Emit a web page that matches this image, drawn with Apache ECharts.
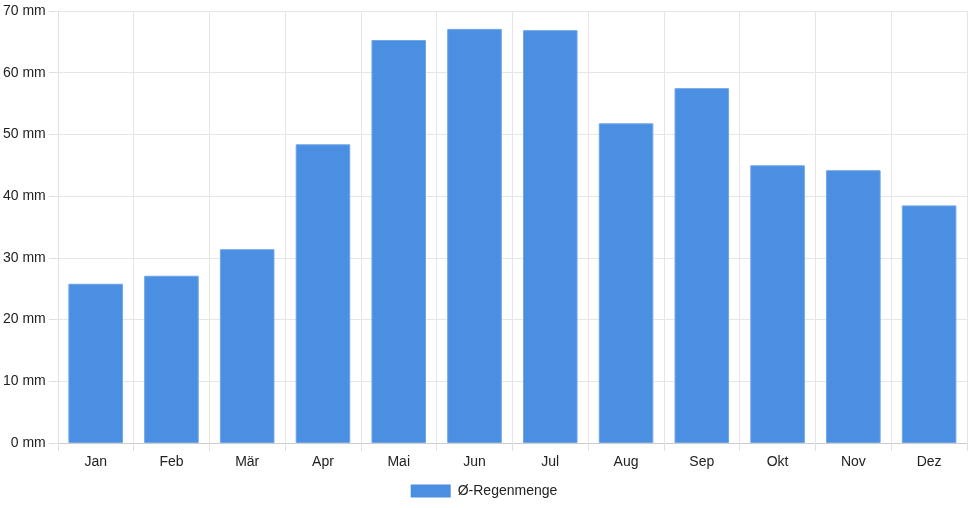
<!DOCTYPE html>
<html lang="de">
<head>
    <meta charset="utf-8"/>
    <title>Regenmenge</title>
    <script src="https://cdn.jsdelivr.net/npm/echarts@6/dist/echarts.min.js"></script>
    <style>
        html, body { margin: 0; padding: 0; background: #fff; }
        #main { width: 968px; height: 508px; }
    </style>
</head>
<body>
<div id="main"></div>
<script>
    var monate = ['Jan', 'Feb', 'Mär', 'Apr', 'Mai', 'Jun', 'Jul', 'Aug', 'Sep', 'Okt', 'Nov', 'Dez'];
    var regenmenge = [25.8, 27.1, 31.4, 48.4, 65.3, 67.1, 66.9, 51.8, 57.5, 45.0, 44.2, 38.5];
    var serienName = 'Ø-Regenmenge';

    var myChart = echarts.init(document.getElementById('main'));
    var option = {
        animation: false,
        textStyle: { fontFamily: 'Liberation Sans, Arial, sans-serif' },
        grid: { left: 57, right: 1, top: 11, bottom: 65 },
        legend: {
            bottom: 5,
            left: 'center',
            icon: 'rect',
            itemWidth: 40,
            itemHeight: 13,
            itemStyle: { borderWidth: 0 },
            textStyle: { fontSize: 14, color: '#222', padding: [0, 0, 0, 2] },
            data: [serienName]
        },
        xAxis: {
            type: 'category',
            data: monate,
            boundaryGap: true,
            axisLine: { lineStyle: { color: '#ccc' } },
            axisTick: { show: true, length: 8, lineStyle: { color: '#e0e0e0' } },
            splitLine: { show: true, lineStyle: { color: '#e6e6e6' } },
            axisLabel: { color: '#222', fontSize: 14, margin: 12 }
        },
        yAxis: {
            type: 'value',
            min: 0,
            max: 70,
            interval: 10,
            axisLine: { show: true, lineStyle: { color: '#e0e0e0' } },
            axisTick: { show: true, length: 9, lineStyle: { color: '#e0e0e0' } },
            splitLine: { lineStyle: { color: '#e6e6e6' } },
            axisLabel: { color: '#222', fontSize: 14, margin: 12, formatter: '{value} mm' }
        },
        series: [{
            name: serienName,
            type: 'bar',
            data: regenmenge,
            barCategoryGap: '28%',
            itemStyle: { color: '#4a8fe2', borderColor: '#6fa6e8', borderWidth: 1 }
        }]
    };
    myChart.setOption(option);
</script>
</body>
</html>
